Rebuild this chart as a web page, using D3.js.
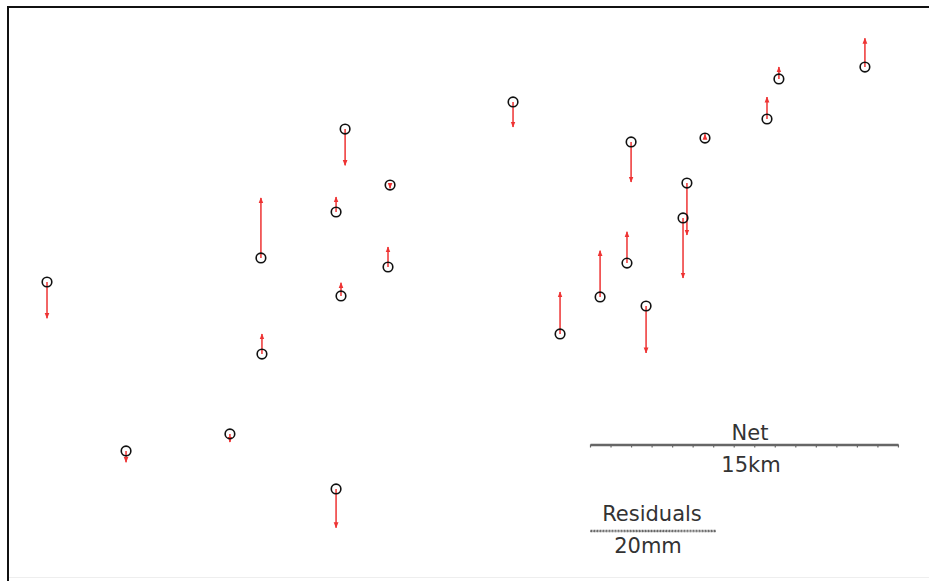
<!DOCTYPE html>
<html>
<head>
<meta charset="utf-8">
<script src="https://cdn.jsdelivr.net/npm/d3@7"></script>
<style>
  html, body { margin: 0; padding: 0; background: #fff; }
  svg { display: block; }
  text { font-family: "DejaVu Sans", sans-serif; fill: #333; }
</style>
</head>
<body>
<svg id="chart" width="929" height="581"></svg>
<script>
// Station positions (km east / km north of the map origin) and vertical residuals (mm, + = up)
const stations = ["S01","S02","S03","S04","S05","S06","S07","S08","S09","S10","S11","S12",
                  "S13","S14","S15","S16","S17","S18","S19","S20","S21","S22","S23"];
const easting  = [1.90, 5.75, 10.81, 15.98, 12.32, 12.37, 16.42, 15.98, 18.61, 18.51, 16.22, 24.60,
                  30.35, 33.95, 33.07, 32.88, 30.15, 28.84, 26.89, 31.08, 37.55, 36.97, 41.74];
const northing = [14.37, 6.14, 6.97, 4.29, 15.54, 10.86, 21.82, 17.78, 19.09, 15.10, 13.69, 23.14,
                  21.19, 21.38, 19.19, 17.49, 15.29, 13.64, 11.84, 13.20, 24.26, 22.31, 24.84];
const residual = [-5.8, -1.8, -1.3, -6.2, 9.6, 3.2, -5.8, 2.4, -0.5, 3.2, 2.1, -4.0,
                  -6.4, 0.6, -8.3, -9.6, 5.0, 7.4, 6.7, -7.5, 1.9, 3.5, 4.6];
// Scale bars
const netScaleKm = 15;
const netScaleLabel = "Net";
const netScaleUnit = "15km";
const resScaleMm = 20;
const resScaleLabel = "Residuals";
const resScaleUnit = "20mm";

const W = 929, H = 581;
const svg = d3.select("#chart");
const pxPerKm = 20.53;
const pxPerMm = 6.25;

const x = d3.scaleLinear().domain([0, 45]).range([8, 8 + 45 * pxPerKm]);
const y = d3.scaleLinear().domain([0, 28]).range([577, 577 - 28 * pxPerKm]);
const r = d3.scaleLinear().domain([0, 1]).range([0, pxPerMm]); // mm -> px

const data = stations.map((s, i) => ({ id: s, e: easting[i], n: northing[i], v: residual[i] }));

// frame (left and top edges)
svg.append("line").attr("x1", 8).attr("x2", 8).attr("y1", 6).attr("y2", H)
  .attr("stroke", "#111").attr("stroke-width", 2);
svg.append("line").attr("x1", 7).attr("x2", W).attr("y1", 7).attr("y2", 7)
  .attr("stroke", "#111").attr("stroke-width", 2);
svg.append("line").attr("x1", 9).attr("x2", W).attr("y1", 577.5).attr("y2", 577.5)
  .attr("stroke", "#eee").attr("stroke-width", 1);

// arrowhead marker
svg.append("defs").append("marker")
  .attr("id", "ah").attr("viewBox", "0 0 10 10").attr("refX", 9).attr("refY", 5)
  .attr("markerUnits", "userSpaceOnUse").attr("markerWidth", 6).attr("markerHeight", 6)
  .attr("orient", "auto")
  .append("path").attr("d", "M0,1 L10,5 L0,9 z").attr("fill", "#ee3333");

// residual arrows
svg.append("g").selectAll("line").data(data).join("line")
  .attr("x1", d => x(d.e)).attr("y1", d => y(d.n))
  .attr("x2", d => x(d.e)).attr("y2", d => y(d.n) - r(d.v))
  .attr("stroke", "#ee3333").attr("stroke-width", 1.5)
  .attr("marker-end", "url(#ah)");

// stations
svg.append("g").selectAll("circle").data(data).join("circle")
  .attr("cx", d => x(d.e)).attr("cy", d => y(d.n)).attr("r", 4.8)
  .attr("fill", "none").attr("stroke", "#111").attr("stroke-width", 1.6);

// Net scale bar
const netX0 = 590;
const netScale = d3.scaleLinear().domain([0, netScaleKm]).range([netX0, netX0 + netScaleKm * pxPerKm]);
const netAxis = d3.axisBottom(netScale).tickValues(d3.range(0, netScaleKm + 1)).tickFormat("").tickSize(3).tickSizeOuter(0);
const gNet = svg.append("g").attr("transform", "translate(0,444.5)").call(netAxis);
gNet.select(".domain").attr("stroke", "#666").attr("stroke-width", 2.5);
gNet.selectAll(".tick line").attr("stroke", "#666").attr("stroke-width", 1.2);
svg.append("text").attr("x", 750).attr("y", 440).attr("text-anchor", "middle")
  .attr("font-size", 21).text(netScaleLabel);
svg.append("text").attr("x", 751).attr("y", 472).attr("text-anchor", "middle")
  .attr("font-size", 21).text(netScaleUnit);

// Residual scale bar
const resScale = d3.scaleLinear().domain([0, resScaleMm]).range([590, 590 + resScaleMm * pxPerMm]);
const resAxis = d3.axisBottom(resScale).tickValues(d3.range(0, resScaleMm + 0.5, 0.5)).tickFormat("").tickSize(1.5).tickSizeOuter(0);
const gRes = svg.append("g").attr("transform", "translate(0,530.5)").call(resAxis);
gRes.select(".domain").attr("stroke", "#666").attr("stroke-width", 2.5).attr("stroke-dasharray", "2,1");
gRes.selectAll(".tick line").attr("stroke", "#888").attr("stroke-width", 1);
svg.append("text").attr("x", 652).attr("y", 521).attr("text-anchor", "middle")
  .attr("font-size", 21).text(resScaleLabel);
svg.append("text").attr("x", 648).attr("y", 553).attr("text-anchor", "middle")
  .attr("font-size", 21).text(resScaleUnit);
</script>
</body>
</html>
